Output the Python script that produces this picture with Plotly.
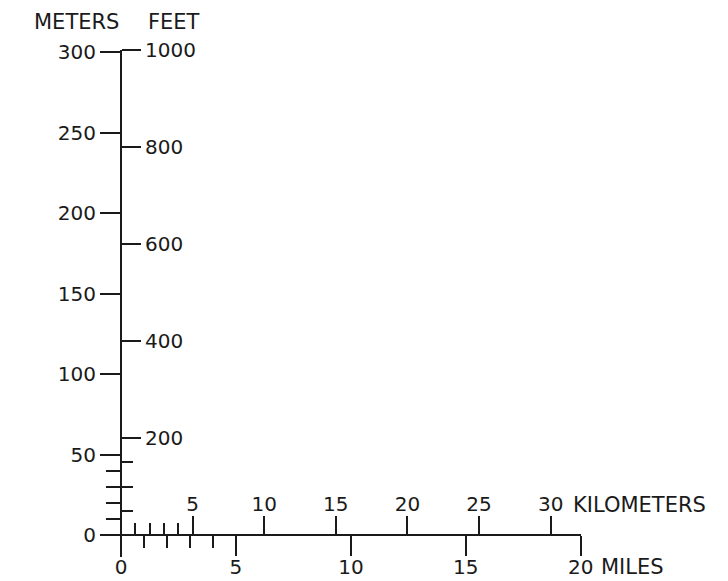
import plotly.graph_objects as go

# ---- data (scale values) ----
meter_ticks = [0, 50, 100, 150, 200, 250, 300]
meter_minor = [10, 20, 30, 40]
feet_ticks = [200, 400, 600, 800, 1000]
feet_minor = [50, 100, 150]
km_ticks = [5, 10, 15, 20, 25, 30]
km_minor = [1, 2, 3, 4]
mile_ticks = [0, 5, 10, 15, 20]
mile_minor = [1, 2, 3, 4]

# ---- layout geometry (page has an 8px body margin) ----
OFF = 8
W, H = 728 - OFF, 581 - OFF
L, T = 100 - OFF, 50 - OFF
PW, PH = 481, 507
R, B = W - L - PW, H - T - PH
x0px, y0px = 121 - OFF, 535 - OFF    # origin in figure pixels
km_px, mi_px = 14.33, 23.0           # pixels per unit
m_px, ft_px = 1.609, 0.485

km_range = [-(x0px - L) / km_px, (L + PW - x0px) / km_px + 0.02]
mi_range = [-(x0px - L) / mi_px, (L + PW - x0px) / mi_px + 0.01]
m_range = [-(T + PH - y0px) / m_px, (y0px - T) / m_px]
ft_range = [-(T + PH - y0px) / ft_px, (y0px - T) / ft_px + 0.5]
ypos = (x0px - L) / PW
xpos = (T + PH - y0px) / PH

ink = "#1a1a1a"
font = dict(family="DejaVu Sans", size=20, color=ink)

fig = go.Figure()
fig.add_trace(go.Scatter(x=[0], y=[0], xaxis="x", yaxis="y", mode="markers",
                         marker=dict(opacity=0), showlegend=False, hoverinfo="skip"))
fig.add_trace(go.Scatter(x=[0], y=[0], xaxis="x2", yaxis="y2", mode="markers",
                         marker=dict(opacity=0), showlegend=False, hoverinfo="skip"))

common = dict(showgrid=False, zeroline=False, showline=True, linewidth=2,
              linecolor=ink, ticks="outside", tickwidth=2, tickcolor=ink,
              tickfont=font, automargin=False, fixedrange=True)

fig.update_layout(
    width=W, height=H,
    margin=dict(l=L, r=R, t=T, b=B),
    paper_bgcolor="white", plot_bgcolor="white",
    showlegend=False, hovermode=False,
    font=font,
    xaxis=dict(common, range=km_range, side="top", anchor="free", position=xpos,
               tickmode="array", tickvals=km_ticks, ticktext=[str(v) for v in km_ticks],
               ticklen=18, ticklabelstandoff=-3,
               minor=dict(tickmode="array", tickvals=km_minor, ticklen=11,
                          tickwidth=2, tickcolor=ink, ticks="outside")),
    xaxis2=dict(common, range=mi_range, side="bottom", anchor="free", position=xpos,
                overlaying="x",
                tickmode="array", tickvals=mile_ticks, ticktext=[str(v) for v in mile_ticks],
                ticklen=20, ticklabelstandoff=-6,
                minor=dict(tickmode="array", tickvals=mile_minor, ticklen=12,
                           tickwidth=2, tickcolor=ink, ticks="outside")),
    yaxis=dict(common, range=m_range, side="left", anchor="free", position=ypos,
               tickmode="array", tickvals=meter_ticks, ticktext=[str(v) for v in meter_ticks],
               ticklen=20,
               minor=dict(tickmode="array", tickvals=meter_minor, ticklen=14,
                          tickwidth=2, tickcolor=ink, ticks="outside")),
    yaxis2=dict(common, range=ft_range, side="right", anchor="free", position=ypos,
                overlaying="y",
                tickmode="array", tickvals=feet_ticks, ticktext=[str(v) for v in feet_ticks],
                ticklen=19,
                minor=dict(tickmode="array", tickvals=feet_minor, ticklen=11,
                           tickwidth=2, tickcolor=ink, ticks="outside")),
)

title_font = dict(family="DejaVu Sans", size=21, color=ink)


def px_x(p):
    return (p - OFF - L) / PW


def px_y(p):
    return (T + PH - (p - OFF)) / PH


fig.add_annotation(text="METERS", xref="paper", x=px_x(121), xanchor="right",
                   yref="paper", y=px_y(22), yanchor="middle",
                   showarrow=False, font=title_font)
fig.add_annotation(text="FEET", xref="paper", x=px_x(146), xanchor="left",
                   yref="paper", y=px_y(22), yanchor="middle",
                   showarrow=False, font=title_font)
fig.add_annotation(text="KILOMETERS", xref="paper", x=px_x(571), xanchor="left",
                   yref="paper", y=px_y(505), yanchor="middle",
                   showarrow=False, font=title_font)
fig.add_annotation(text="MILES", xref="paper", x=px_x(599), xanchor="left",
                   yref="paper", y=px_y(567), yanchor="middle",
                   showarrow=False, font=title_font)

fig.write_html("out.html")
